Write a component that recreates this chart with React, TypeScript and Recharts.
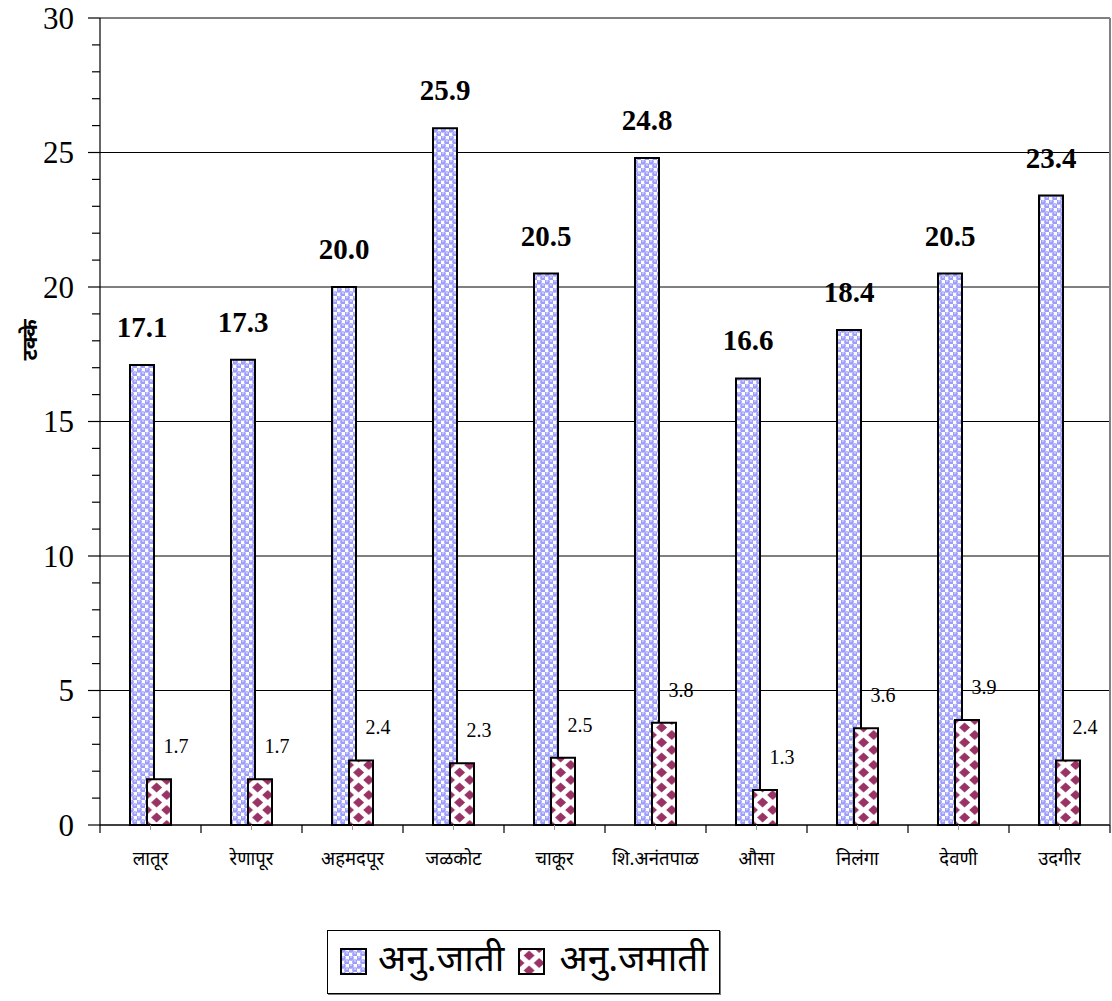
import React from 'react';
import { BarChart, Bar, XAxis, YAxis, CartesianGrid, Legend, LabelList, Label } from 'recharts';

const CATEGORIES = ['लातूर', 'रेणापूर', 'अहमदपूर', 'जळकोट', 'चाकूर', 'शि.अनंतपाळ', 'औसा', 'निलंगा', 'देवणी', 'उदगीर'];
const SC_VALUES = [17.1, 17.3, 20.0, 25.9, 20.5, 24.8, 16.6, 18.4, 20.5, 23.4];
const ST_VALUES = [1.7, 1.7, 2.4, 2.3, 2.5, 3.8, 1.3, 3.6, 3.9, 2.4];
const SERIES_NAMES = ['अनु.जाती', 'अनु.जमाती'];
const Y_TICKS = [0, 1, 2, 3, 4, 5, 6, 7, 8, 9, 10, 11, 12, 13, 14, 15, 16, 17, 18, 19, 20, 21, 22, 23, 24, 25, 26, 27, 28, 29, 30];
const Y_MAJOR = [0, 5, 10, 15, 20, 25, 30];
const Y_MAX = 30;
const Y_LABEL = 'टक्के';

const data = CATEGORIES.map((name, i) => ({ name, sc: SC_VALUES[i], st: ST_VALUES[i] }));

const SERIF = "Liberation Serif, Times New Roman, DejaVu Serif, serif";
const DEVA = "'Noto Sans Devanagari', 'Lohit Devanagari', 'Noto Serif Devanagari', 'FreeSerif', 'Mangal', 'Liberation Serif', serif";

const Y_TICK_SIZE = 12;
const Y_TICK_MARGIN = 14;
const X_TICK_SIZE = 5;
const X_TICK_MARGIN = 22;
const HALF_BAND = 50.5;

function YTick(props: any) {
  const { x, y, payload } = props;
  const ax = x + Y_TICK_SIZE + Y_TICK_MARGIN;
  const major = Y_MAJOR.includes(payload.value);
  return (
    <g>
      <line x1={ax} x2={ax - (major ? Y_TICK_SIZE : 8)} y1={y} y2={y} stroke="#000" strokeWidth={1.2} />
      {major && (
        <text x={x} y={y} textAnchor="end" dominantBaseline="central" fontSize={31} fontFamily={SERIF} fill="#000">
          {payload.value}
        </text>
      )}
    </g>
  );
}

function XTick(props: any) {
  const { x, y, payload, index, visibleTicksCount } = props;
  const ay = y - X_TICK_SIZE - X_TICK_MARGIN;
  const last = index === (visibleTicksCount ?? CATEGORIES.length) - 1;
  return (
    <g>
      <line x1={x - HALF_BAND} x2={x - HALF_BAND} y1={ay} y2={ay + 8} stroke="#000" strokeWidth={1.2} />
      {last && <line x1={x + HALF_BAND} x2={x + HALF_BAND} y1={ay} y2={ay + 8} stroke="#000" strokeWidth={1.2} />}
      <text x={x} y={y} dy="0.71em" textAnchor="middle" fontSize={18.5} fontFamily={DEVA} fill="#000">
        {payload.value}
      </text>
    </g>
  );
}

function BlueLabel(props: any) {
  const { x, y, width, value } = props;
  return (
    <text x={x + width / 2} y={y - 28} textAnchor="middle" fontSize={29} fontWeight="bold" fontFamily={SERIF} fill="#000">
      {Number(value).toFixed(1)}
    </text>
  );
}

function RedLabel(props: any) {
  const { x, y, width, value } = props;
  return (
    <text x={x + width / 2 + 17} y={y - 26} textAnchor="middle" fontSize={20} fontFamily={SERIF} fill="#000">
      {Number(value).toFixed(1)}
    </text>
  );
}

function YLabel(props: any) {
  const { viewBox } = props;
  const vb = viewBox || { x: 0, y: 18 };
  const cx = vb.x + 32;
  const cy = vb.y + 322;
  return (
    <text x={cx} y={cy} transform={`rotate(-90 ${cx} ${cy})`} textAnchor="middle" dominantBaseline="central" fontSize={21} fontWeight="bold" fontFamily={DEVA} fill="#000">
      {Y_LABEL}
    </text>
  );
}

function PatternDefs({ suffix, redX = 5.1 }: { suffix: string; redX?: number }) {
  return (
    <defs>
      <pattern id={`pBlue${suffix}`} x={1} width={8} height={8} patternUnits="userSpaceOnUse">
        <rect width={8} height={8} fill="#ffffff" />
        <circle cx={2} cy={2} r={2.8} fill="#9d9dfb" />
        <circle cx={6} cy={6} r={2.8} fill="#9d9dfb" />
        <ellipse cx={2} cy={1.1} rx={1.3} ry={0.8} fill="#d6d6ff" />
        <ellipse cx={6} cy={5.1} rx={1.3} ry={0.8} fill="#d6d6ff" />
      </pattern>
      <pattern id={`pRed${suffix}`} x={redX} width={20.2} height={15} patternUnits="userSpaceOnUse">
        <rect width={20.2} height={15} fill="#ffffff" />
        <polygon points="0,-5 5.5,0 0,5 -5.5,0" fill="#993366" />
        <polygon points="20.2,-5 25.7,0 20.2,5 14.7,0" fill="#993366" />
        <polygon points="0,10 5.5,15 0,20 -5.5,15" fill="#993366" />
        <polygon points="20.2,10 25.7,15 20.2,20 14.7,15" fill="#993366" />
        <polygon points="10.1,2.5 15.6,7.5 10.1,12.5 4.6,7.5" fill="#993366" />
      </pattern>
    </defs>
  );
}

function LegendIcon({ fill }: { fill: string }) {
  return (
    <svg width={28} height={28} style={{ display: 'block', flex: 'none' }}>
      <PatternDefs suffix="L" redX={1} />
      <rect x={1} y={1} width={25} height={25} fill={fill} stroke="#000" strokeWidth={2} />
    </svg>
  );
}

function LegendBox() {
  return (
    <div style={{ height: 65, position: 'relative' }}>
      <div
        style={{
          position: 'absolute',
          left: 327,
          top: 0,
          width: 393,
          height: 64,
          border: '1px solid #000',
          boxShadow: '1px 1px 0 #777',
          background: '#fff',
          display: 'flex',
          alignItems: 'center',
          boxSizing: 'border-box',
          paddingLeft: 12,
          fontFamily: DEVA,
          fontSize: 37,
          color: '#000',
          whiteSpace: 'nowrap',
        }}
      >
        <LegendIcon fill="url(#pBlueL)" />
        <span style={{ marginLeft: 10, marginRight: 14 }}>{SERIES_NAMES[0]}</span>
        <LegendIcon fill="url(#pRedL)" />
        <span style={{ marginLeft: 13 }}>{SERIES_NAMES[1]}</span>
      </div>
    </div>
  );
}

export default function App() {
  return (
    <div style={{ position: 'absolute', left: 0, top: 0, width: 1112, height: 1001, background: '#fff' }}>
      <BarChart
        width={1112}
        height={1001}
        data={data}
        margin={{ top: 18, right: 2, bottom: 6, left: 0 }}
        barGap={-7}
      >
        <PatternDefs suffix="" />
        <CartesianGrid
          vertical={false}
          stroke="#000"
          strokeWidth={1}
          horizontalCoordinatesGenerator={(p: any) =>
            Y_MAJOR.map((v) => p.offset.top + p.offset.height * (1 - v / Y_MAX))
          }
        />
        <CartesianGrid
          horizontal={false}
          stroke="#808080"
          strokeWidth={2}
          verticalCoordinatesGenerator={(p: any) => [p.offset.left + p.offset.width]}
        />
        <XAxis
          dataKey="name"
          height={105}
          axisLine={{ stroke: '#000', strokeWidth: 1.2 }}
          tickLine={{ stroke: '#999' }}
          tickSize={X_TICK_SIZE}
          tickMargin={X_TICK_MARGIN}
          tick={<XTick />}
          interval={0}
        />
        <YAxis
          width={100}
          domain={[0, Y_MAX]}
          ticks={Y_TICKS}
          interval={0}
          axisLine={{ stroke: '#000', strokeWidth: 1.2 }}
          tickLine={false}
          tickSize={Y_TICK_SIZE}
          tickMargin={Y_TICK_MARGIN}
          tick={<YTick />}
        >
          <Label content={<YLabel />} />
        </YAxis>
        <Legend verticalAlign="bottom" content={() => <LegendBox />} />
        <Bar dataKey="sc" name={SERIES_NAMES[0]} fill="url(#pBlue)" stroke="#000" strokeWidth={2} barSize={24} isAnimationActive={false}>
          <LabelList dataKey="sc" content={<BlueLabel />} />
        </Bar>
        <Bar dataKey="st" name={SERIES_NAMES[1]} fill="url(#pRed)" stroke="#000" strokeWidth={2} barSize={24} isAnimationActive={false}>
          <LabelList dataKey="st" content={<RedLabel />} />
        </Bar>
      </BarChart>
    </div>
  );
}
